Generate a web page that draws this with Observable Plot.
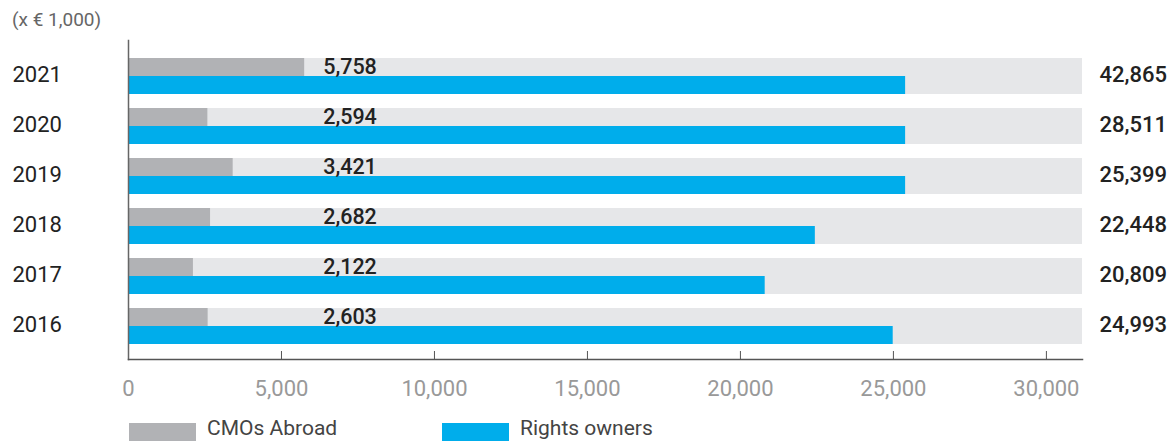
<!DOCTYPE html>
<html><head><meta charset="utf-8">
<script src="https://cdn.jsdelivr.net/npm/d3@7"></script>
<script src="https://cdn.jsdelivr.net/npm/@observablehq/plot@0.6"></script>
<style>
body{margin:0;background:#fff;font-family:Roboto,sans-serif;}
#wrap{position:relative;width:1172px;height:441px;overflow:hidden;}
#chart{position:absolute;left:0;top:0;}
#unit{position:absolute;left:12px;top:10px;font-size:19px;line-height:19px;color:#666;}
.leg{position:absolute;top:418px;display:flex;align-items:flex-start;font-size:21px;line-height:21px;color:#444;}
.sw{width:67px;height:23px;margin-top:5px;margin-right:11px;}
</style></head>
<body>
<div id="wrap">
  <div id="chart"></div>
  <div id="unit">(x € 1,000)</div>
  <div class="leg" style="left:129px"><div class="sw" style="background:#b1b2b5"></div><span>CMOs Abroad</span></div>
  <div class="leg" style="left:442px"><div class="sw" style="background:#00adeb"></div><span>Rights owners</span></div>
</div>
<script>
const years = ["2021", "2020", "2019", "2018", "2017", "2016"];
const cmosAbroad = [5758, 2594, 3421, 2682, 2122, 2603];
const rightsOwnersBar = [25399, 25399, 25399, 22448, 20809, 24993];
const rightsOwnersLabel = [42865, 28511, 25399, 22448, 20809, 24993];
const xTicks = [0, 5000, 10000, 15000, 20000, 25000, 30000];
const xMax = 31180;

const rows = years.map((y, i) => ({year: y, cmos: cmosAbroad[i], rights: rightsOwnersBar[i], label: rightsOwnersLabel[i]}));
const fmt = d3.format(",");

const plot = Plot.plot({
  width: 1172,
  height: 418,
  marginLeft: 128,
  marginRight: 90,
  marginTop: 40,
  marginBottom: 59,
  style: {fontFamily: "Roboto, sans-serif", fontSize: "22px", color: "#222", background: "#fff"},
  x: {domain: [0, xMax]},
  y: {domain: years, paddingInner: 0.2857, paddingOuter: 0.307, align: 0.55, axis: null},
  marks: [
    Plot.barX(rows, {y: "year", x1: 0, x2: xMax, fill: "#e6e7e9"}),
    Plot.barX(rows, {y: "year", x: "cmos", fill: "#b1b2b5", insetBottom: 18}),
    Plot.barX(rows, {y: "year", x: "rights", fill: "#00adeb", insetTop: 18}),
    Plot.text(rows, {y: "year", text: d => fmt(d.cmos), frameAnchor: "left", dx: 221.5, dy: -9.5, textAnchor: "middle", fontSize: 21.5, fontWeight: 500, fill: "#222"}),
    Plot.text(rows, {y: "year", text: d => fmt(d.label), frameAnchor: "right", dx: 17, dy: -1.5, textAnchor: "start", fontSize: 22, fontWeight: 500, fill: "#222"}),
    Plot.text(rows, {y: "year", text: "year", frameAnchor: "left", dx: -116, dy: -1.5, textAnchor: "start", fontSize: 22, fill: "#222"}),
    Plot.axisX({ticks: xTicks, tickSize: 8, dy: -8, tickFormat: () => "", stroke: "#555"}),
    Plot.axisX({ticks: xTicks, tickSize: 0, tickPadding: 21, tickFormat: fmt, fill: "#999", fontSize: 22}),
    Plot.frame({anchor: "left", stroke: "#666", strokeWidth: 1.5}),
    Plot.frame({anchor: "bottom", stroke: "#555", strokeWidth: 1.5})
  ]
});
document.getElementById("chart").appendChild(plot);
</script>
</body></html>
